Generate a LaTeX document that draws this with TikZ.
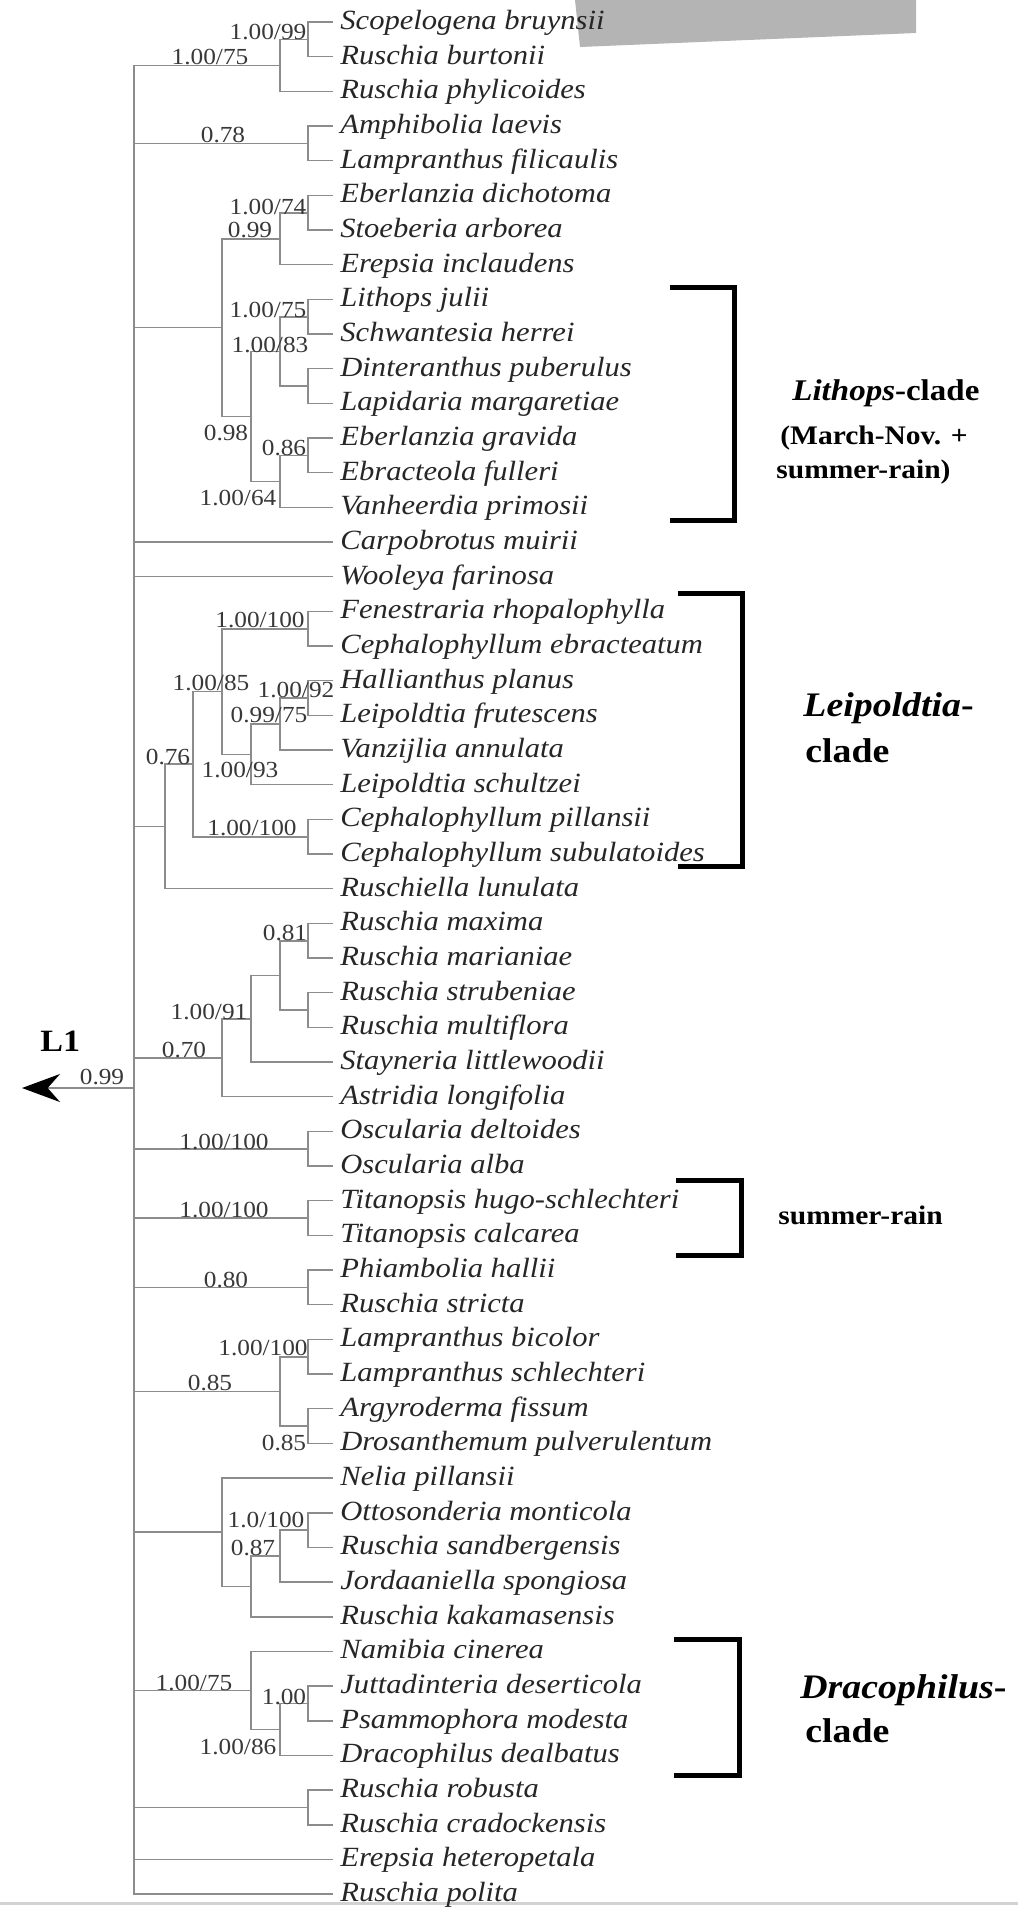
\documentclass[tikz,border=0pt]{standalone}
\usepackage{fontspec}
\setmainfont{Liberation Serif}[FakeStretch=1.1]
\usepackage{tikz}
\usetikzlibrary{arrows.meta}
\definecolor{treegray}{RGB}{140,140,140}
\definecolor{boxgray}{RGB}{180,180,180}
\newcommand{\rootarrow}{-{Stealth[length=19pt,width=14pt,black]}}

\begin{document}
\begin{tikzpicture}[x=0.5pt,y=-0.5pt,
    branch/.style={draw=treegray,line width=0.8pt},
    taxon/.style={anchor=west,inner xsep=3.5pt,inner ysep=0pt,text height=9.5pt,text depth=2pt,
        text=black!85,font=\fontsize{13.9}{16}\selectfont\itshape},
    supp/.style={inner sep=0pt,text height=7.8pt,text depth=0pt,text=black!78,
        font=\fontsize{11.5}{13}\selectfont},
    bracket/.style={line width=2.5pt},
    clade/.style={anchor=base west,inner sep=0pt,font=\bfseries}]
\useasboundingbox (0,0) rectangle (1018,1907);

% grey patch at the top (behind the names) and rule at the bottom
\fill[boxgray] (575,0) -- (916,0) -- (916,33) -- (580,47) -- cycle;
\draw[gray!35,line width=1.5pt] (0,1903) -- (1018,1903);

% taxa
\foreach \name [count=\i] in {Scopelogena bruynsii, Ruschia burtonii, Ruschia phylicoides,
    Amphibolia laevis, Lampranthus filicaulis, Eberlanzia dichotoma, Stoeberia arborea,
    Erepsia inclaudens, Lithops julii, Schwantesia herrei, Dinteranthus puberulus,
    Lapidaria margaretiae, Eberlanzia gravida, Ebracteola fulleri, Vanheerdia primosii,
    Carpobrotus muirii, Wooleya farinosa, Fenestraria rhopalophylla, Cephalophyllum ebracteatum,
    Hallianthus planus, Leipoldtia frutescens, Vanzijlia annulata, Leipoldtia schultzei,
    Cephalophyllum pillansii, Cephalophyllum subulatoides, Ruschiella lunulata, Ruschia maxima,
    Ruschia marianiae, Ruschia strubeniae, Ruschia multiflora, Stayneria littlewoodii,
    Astridia longifolia, Oscularia deltoides, Oscularia alba, Titanopsis hugo-schlechteri,
    Titanopsis calcarea, Phiambolia hallii, Ruschia stricta, Lampranthus bicolor,
    Lampranthus schlechteri, Argyroderma fissum, Drosanthemum pulverulentum, Nelia pillansii,
    Ottosonderia monticola, Ruschia sandbergensis, Jordaaniella spongiosa, Ruschia kakamasensis,
    Namibia cinerea, Juttadinteria deserticola, Psammophora modesta, Dracophilus dealbatus,
    Ruschia robusta, Ruschia cradockensis, Erepsia heteropetala, Ruschia polita}
    \node[taxon] (t\i) at (333,{22+(\i-1)*34.667}) {\name};

% inner nodes
\coordinate (A1) at (308,39.3);
\coordinate (A) at (280,65.3);
\coordinate (B) at (308,143.3);
\coordinate (C1a) at (308,212.7);
\coordinate (C1) at (280,238.7);
\coordinate (C2a1) at (308,316.7);
\coordinate (C2a2) at (308,386);
\coordinate (C2a) at (280,351.3);
\coordinate (C2b1) at (308,455.3);
\coordinate (C2b) at (280,481.3);
\coordinate (C2) at (251,416.3);
\coordinate (C) at (222,327.5);
\coordinate (D1a1) at (308,628.7);
\coordinate (D1a2a1) at (308,698);
\coordinate (D1a2a) at (280,724);
\coordinate (D1a2) at (251,754.3);
\coordinate (D1a) at (222,691.5);
\coordinate (D1b) at (308,836.7);
\coordinate (D1) at (193,764.1);
\coordinate (D) at (165,826.4);
\coordinate (E1a1) at (308,940.7);
\coordinate (E1a2) at (308,1010);
\coordinate (E1a) at (280,975.3);
\coordinate (E1) at (251,1018.7);
\coordinate (E) at (222,1057.7);
\coordinate (F) at (308,1148.7);
\coordinate (G) at (308,1218);
\coordinate (H) at (308,1287.3);
\coordinate (I1) at (308,1356.7);
\coordinate (I2) at (308,1426);
\coordinate (I) at (280,1391.3);
\coordinate (J1a1) at (308,1530);
\coordinate (J1a) at (280,1556);
\coordinate (J1) at (251,1586.3);
\coordinate (J) at (222,1532.2);
\coordinate (K1a) at (308,1703.3);
\coordinate (K1) at (280,1729.3);
\coordinate (K) at (251,1690.3);
\coordinate (L) at (308,1807.3);
\coordinate (R) at (134,1088);
\coordinate (tip) at (22,1088);

% branches
\foreach \p/\c in {A1/t1, A1/t2, A/A1, A/t3, B/t4, B/t5,
    C1a/t6, C1a/t7, C1/C1a, C1/t8, C2a1/t9, C2a1/t10, C2a2/t11, C2a2/t12, C2a/C2a1, C2a/C2a2,
    C2b1/t13, C2b1/t14, C2b/C2b1, C2b/t15, C2/C2a, C2/C2b, C/C1, C/C2,
    D1a1/t18, D1a1/t19, D1a2a1/t20, D1a2a1/t21, D1a2a/D1a2a1, D1a2a/t22, D1a2/D1a2a, D1a2/t23,
    D1a/D1a1, D1a/D1a2, D1b/t24, D1b/t25, D1/D1a, D1/D1b, D/D1, D/t26,
    E1a1/t27, E1a1/t28, E1a2/t29, E1a2/t30, E1a/E1a1, E1a/E1a2, E1/E1a, E1/t31, E/E1, E/t32,
    F/t33, F/t34, G/t35, G/t36, H/t37, H/t38, I1/t39, I1/t40, I2/t41, I2/t42, I/I1, I/I2,
    J1a1/t44, J1a1/t45, J1a/J1a1, J1a/t46, J1/J1a, J1/t47, J/t43, J/J1,
    K1a/t49, K1a/t50, K1/K1a, K1/t51, K/t48, K/K1, L/t52, L/t53,
    R/A, R/B, R/C, R/t16, R/t17, R/D, R/E, R/F, R/G, R/H, R/I, R/J, R/K, R/L, R/t54, R/t55}
    \draw[branch] (\p) |- (\c);
\draw[branch,\rootarrow] (R) -- (tip);

% support values
\foreach \x/\y/\v [count=\n] in {268/32/{1.00/99}, 210/57/{1.00/75}, 223/135/0.78,
    268/207/{1.00/74}, 250/230/0.99, 268/310/{1.00/75}, 270/345/{1.00/83}, 226/433/0.98,
    284/448/0.86, 238/498/{1.00/64}, 260/620/{1.00/100}, 211/683/{1.00/85}, 296/690/{1.00/92},
    269/715/{0.99/75}, 168/757/0.76, 240/770/{1.00/93}, 252/828/{1.00/100}, 285/933/0.81,
    209/1012/{1.00/91}, 184/1050/0.70, 102/1077/0.99, 224/1142/{1.00/100}, 224/1210/{1.00/100},
    226/1280/0.80, 263/1348/{1.00/100}, 210/1383/0.85, 284/1443/0.85, 266/1520/{1.0/100},
    253/1548/0.87, 194/1683/{1.00/75}, 284/1697/1.00, 238/1747/{1.00/86}}
    \node[supp] (s\n) at (\x,\y) {\v};

\node[clade,font=\fontsize{15.5}{18}\selectfont\bfseries] (L1) at (40,1051) {L1};

% clade brackets
\draw[bracket] (670,287) -- (734,287) -- (734,520) -- (670,520);
\draw[bracket] (678,593) -- (742,593) -- (742,866) -- (678,866);
\draw[bracket] (676,1180) -- (741,1180) -- (741,1255) -- (676,1255);
\draw[bracket] (674,1639) -- (739,1639) -- (739,1775) -- (674,1775);

\node[clade,font=\fontsize{15}{18}\selectfont\bfseries] (lith1) at (792,400) {\textit{Lithops}-clade};
\node[clade,font=\fontsize{13.4}{16}\selectfont\bfseries] (lith2) at (780,444) {(March-Nov. +};
\node[clade,font=\fontsize{13.4}{16}\selectfont\bfseries] (lith3) at (776,478) {summer-rain)};
\node[clade,font=\fontsize{17.2}{20}\selectfont\bfseries] (leip1) at (803,716) {\textit{Leipoldtia}-};
\node[clade,font=\fontsize{17.2}{20}\selectfont\bfseries] (leip2) at (805,762) {clade};
\node[clade,font=\fontsize{13.4}{16}\selectfont\bfseries] (summ) at (778,1224) {summer-rain};
\node[clade,font=\fontsize{17.2}{20}\selectfont\bfseries] (drac1) at (800,1698) {\textit{Dracophilus}-};
\node[clade,font=\fontsize{17.2}{20}\selectfont\bfseries] (drac2) at (805,1742) {clade};
\end{tikzpicture}
\end{document}
